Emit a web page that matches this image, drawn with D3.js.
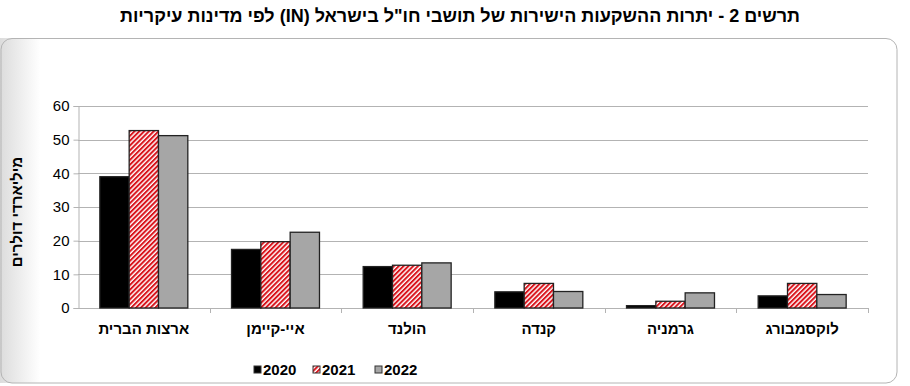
<!DOCTYPE html>
<html>
<head>
<meta charset="utf-8">
<script src="https://cdn.jsdelivr.net/npm/d3@7"></script>
<style>
  body { margin: 0; background: #fff; }
  text { font-family: "Liberation Sans", Arial, sans-serif; }
</style>
</head>
<body>
<script>
// chart data
const countries = ["ארצות הברית", "איי-קיימן", "הולנד", "קנדה", "גרמניה", "לוקסמבורג"];
const years = ["2020", "2021", "2022"];
const v2020 = [39.0, 17.4, 12.3, 4.8, 0.7, 3.6];
const v2021 = [52.7, 19.7, 12.7, 7.3, 2.0, 7.3];
const v2022 = [51.2, 22.5, 13.4, 4.9, 4.5, 4.0];
const yTicks = [0, 10, 20, 30, 40, 50, 60];

const seriesVals = [v2020, v2021, v2022];
const fills = ["#000000", "url(#hatch)", "#a6a6a6"];

const W = 910, H = 386;
const svg = d3.select("body").append("svg").attr("width", W).attr("height", H);

const defs = svg.append("defs");
// red diagonal hatch for 2021
const pat = defs.append("pattern").attr("id", "hatch")
  .attr("patternUnits", "userSpaceOnUse")
  .attr("width", 3.4).attr("height", 3.4)
  .attr("patternTransform", "rotate(45)");
pat.append("rect").attr("width", 3.4).attr("height", 3.4).attr("fill", "#fff");
pat.append("line").attr("x1", 1).attr("y1", 0).attr("x2", 1).attr("y2", 3.4)
  .attr("stroke", "#d9141c").attr("stroke-width", 2);

// panel shadow on the left
const grad = defs.append("linearGradient").attr("id", "shade")
  .attr("x1", "0%").attr("x2", "100%").attr("y1", "0%").attr("y2", "0%");
grad.append("stop").attr("offset", "0%").attr("stop-color", "#dcdcdc");
grad.append("stop").attr("offset", "100%").attr("stop-color", "#ffffff");

svg.append("rect").attr("x", 0).attr("y", 38).attr("width", 40).attr("height", 345)
  .attr("fill", "url(#shade)");
svg.append("rect").attr("x", 1).attr("y", 38.5).attr("width", 896).attr("height", 344.5)
  .attr("rx", 11).attr("fill", "none").attr("stroke", "#b4b4b4").attr("stroke-width", 1);

// title
svg.append("text").attr("x", 460).attr("y", 22)
  .attr("text-anchor", "middle").attr("direction", "rtl")
  .style("font-size", "18px").style("font-weight", "bold")
  .style("font-family", "'Liberation Sans Narrow', 'Liberation Sans', Arial")
  .text('תרשים 2 - יתרות ההשקעות הישירות של תושבי חו"ל בישראל (IN) לפי מדינות עיקריות');

const plotL = 78, plotR = 868, plotT = 106, plotB = 308;

const x = d3.scaleBand().domain(countries).range([plotL, plotR]);
const y = d3.scaleLinear().domain([0, 60]).range([plotB, plotT]);
const xs = d3.scaleBand().domain(years).range([0, x.bandwidth()]).paddingInner(0).paddingOuter(0.745);

// gridlines
svg.append("g").selectAll("line").data(yTicks.filter(d => d > 0)).join("line")
  .attr("x1", plotL).attr("x2", plotR)
  .attr("y1", d => Math.round(y(d)) + 0.5).attr("y2", d => Math.round(y(d)) + 0.5)
  .attr("stroke", "#b3b3b3").attr("stroke-width", 1);

// y axis
const yAxis = svg.append("g").attr("transform", `translate(${plotL + 0.5},0)`)
  .call(d3.axisLeft(y).tickValues(yTicks).tickSize(5).tickPadding(4));
yAxis.select(".domain").attr("stroke", "#b3b3b3");
yAxis.selectAll(".tick line").attr("stroke", "#b3b3b3");
yAxis.selectAll(".tick text").style("font-size", "15px").attr("fill", "#000")
  .style("font-family", "'Liberation Sans', Arial");

// x axis line with ticks between categories
const xAxis = svg.append("g");
xAxis.append("line").attr("x1", plotL).attr("x2", plotR)
  .attr("y1", plotB + 0.5).attr("y2", plotB + 0.5).attr("stroke", "#b3b3b3");
xAxis.selectAll(".sep").data(countries).join("line").attr("class", "sep")
  .attr("x1", d => Math.round(x(d) + x.bandwidth()) + 0.5)
  .attr("x2", d => Math.round(x(d) + x.bandwidth()) + 0.5)
  .attr("y1", plotB).attr("y2", plotB + 5).attr("stroke", "#b3b3b3");
xAxis.selectAll(".lbl").data(countries).join("text").attr("class", "lbl")
  .attr("x", d => x(d) + x.bandwidth() / 2).attr("y", 334)
  .attr("text-anchor", "middle").attr("direction", "rtl")
  .style("font-size", "15px").style("font-weight", "bold")
  .text(d => d);

// y axis title
svg.append("text").attr("transform", "translate(22,212) rotate(-90)")
  .attr("text-anchor", "middle").attr("direction", "rtl")
  .style("font-size", "15px").style("font-weight", "bold")
  .text("מיליארדי דולרים");

// bars
const bars = svg.append("g");
years.forEach((yr, si) => {
  bars.append("g").selectAll("rect").data(countries).join("rect")
    .attr("x", d => x(d) + xs(yr))
    .attr("width", xs.bandwidth())
    .attr("y", (d, i) => y(seriesVals[si][i]))
    .attr("height", (d, i) => plotB - y(seriesVals[si][i]))
    .attr("fill", fills[si])
    .attr("stroke", "#222").attr("stroke-width", 1.3);
});

// legend
const legX = [254, 313, 375];
const leg = svg.append("g");
years.forEach((yr, si) => {
  leg.append("rect").attr("x", legX[si]).attr("y", 366).attr("width", 7).attr("height", 7)
    .attr("fill", fills[si]).attr("stroke", "#333").attr("stroke-width", 1);
  leg.append("text").attr("x", legX[si] + 9).attr("y", 375)
    .style("font-size", "15px").style("font-weight", "bold").text(yr);
});
</script>
</body>
</html>
